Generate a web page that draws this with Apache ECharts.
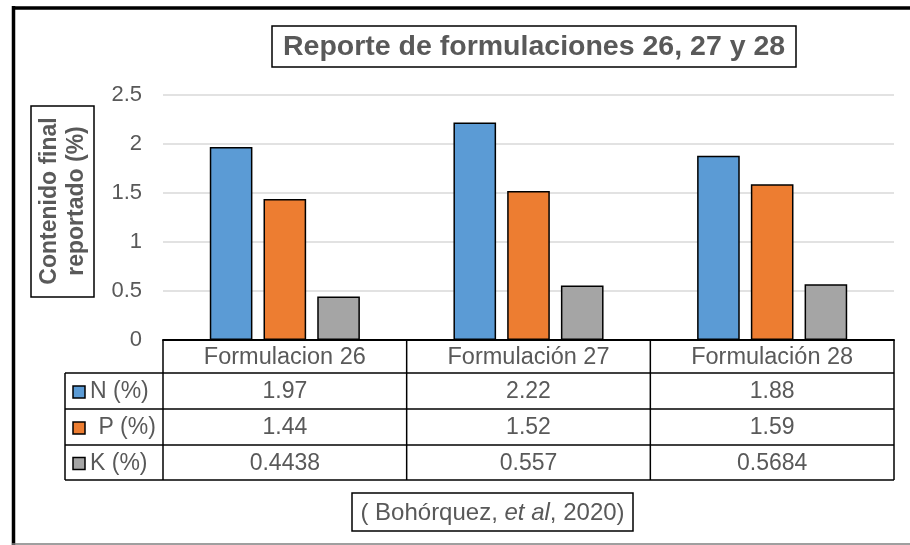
<!doctype html>
<html>
<head>
<meta charset="UTF-8">
<title>Reporte de formulaciones</title>
<script src="https://cdn.jsdelivr.net/npm/echarts@6/dist/echarts.min.js"></script>
<style>
  html, body { margin: 0; padding: 0; background: #fff; }
  #chart { width: 910px; height: 545px; }
</style>
</head>
<body>
<div id="chart"></div>
<script>
// datos
var categories = ['Formulacion 26', 'Formulación 27', 'Formulación 28'];
var seriesNames = ['N (%)', ' P (%)', 'K (%)'];
var nValues = [1.97, 2.22, 1.88];
var pValues = [1.44, 1.52, 1.59];
var kValues = [0.4438, 0.557, 0.5684];
var seriesColors = ['#5B9BD5', '#ED7D31', '#A5A5A5'];
var yMin = 0, yMax = 2.5, yStep = 0.5;

var FONT = '"Liberation Sans", Arial, sans-serif';
var TXT = '#595959';
var allValues = [nValues, pValues, kValues];

var chart = echarts.init(document.getElementById('chart'));

var series = allValues.map(function (vals, i) {
  return {
    name: seriesNames[i],
    type: 'bar',
    data: vals,
    barWidth: '17.5%',
    barGap: '26%',
    itemStyle: { color: seriesColors[i], borderColor: '#000', borderWidth: 1.5 },
    silent: true
  };
});

var option = {
  animation: false,
  backgroundColor: '#fff',
  title: {
    text: 'Reporte de formulaciones 26, 27 y 28',
    left: 272, top: 26,
    padding: [6, 11, 5, 11],
    borderColor: '#000', borderWidth: 1.5,
    textStyle: { fontFamily: FONT, fontSize: 28.5, fontWeight: 'bold', color: TXT, lineHeight: 30 }
  },
  grid: { left: 163, right: 16, top: 95, bottom: 205, containLabel: false },
  xAxis: {
    type: 'category',
    data: categories,
    axisLine: { lineStyle: { color: '#000', width: 2 } },
    axisTick: { show: false },
    axisLabel: { show: false }
  },
  yAxis: {
    type: 'value',
    min: yMin, max: yMax, interval: yStep,
    axisLine: { show: false },
    axisTick: { show: false },
    splitLine: { lineStyle: { color: '#D9D9D9', width: 1.5 } },
    axisLabel: { color: TXT, fontFamily: FONT, fontSize: 22, margin: 21 }
  },
  series: series
};
chart.setOption(option);

// tabla de datos dibujada desde los ejes
function drawTable() {
  var centers = categories.map(function (c, i) { return chart.convertToPixel({ xAxisIndex: 0 }, i); });
  var band = centers[1] - centers[0];
  var x0 = centers[0] - band / 2;
  var xEnd = centers[centers.length - 1] + band / 2;
  var yAxisBase = chart.convertToPixel({ yAxisIndex: 0 }, yMin);
  var rowsY = [yAxisBase, yAxisBase + 33, yAxisBase + 69, yAxisBase + 105, yAxisBase + 140];
  var legendLeft = 65;
  var els = [];
  var ls = { stroke: '#000', lineWidth: 1.5 };

  function line(x1, y1, x2, y2, st) {
    els.push({ type: 'line', shape: { x1: x1, y1: y1, x2: x2, y2: y2 }, style: st || ls, silent: true });
  }
  function text(x, y, t, size, align) {
    els.push({ type: 'text', silent: true,
      style: { text: t, x: x, y: y, fill: TXT, font: size + 'px ' + FONT, align: align || 'center', verticalAlign: 'middle' } });
  }

  // horizontales
  for (var r = 1; r < rowsY.length; r++) line(legendLeft, rowsY[r], xEnd, rowsY[r]);
  // verticales
  line(legendLeft, rowsY[1], legendLeft, rowsY[rowsY.length - 1]);
  for (var c = 0; c <= categories.length; c++) {
    var xx = x0 + c * band;
    line(xx, rowsY[0], xx, rowsY[rowsY.length - 1]);
  }
  // encabezados
  categories.forEach(function (cat, i) {
    text(centers[i], (rowsY[0] + rowsY[1]) / 2 + 1, cat, 23.5);
  });
  // filas
  allValues.forEach(function (vals, s) {
    var yc = (rowsY[s + 1] + rowsY[s + 2]) / 2 + 1;
    els.push({ type: 'rect', shape: { x: 73, y: yc - 6, width: 12, height: 12 },
      style: { fill: seriesColors[s], stroke: '#000', lineWidth: 1.5 }, silent: true });
    text(s === 1 ? 92 : 90, yc, seriesNames[s], 23, 'left');
    vals.forEach(function (v, i) { text(centers[i], yc, String(v), 23); });
  });

  // titulo del eje Y
  els.push({ type: 'rect', shape: { x: 31, y: 106, width: 63, height: 191 },
    style: { fill: 'none', stroke: '#000', lineWidth: 1.5 }, silent: true });
  els.push({ type: 'text', x: 63, y: 201, rotation: Math.PI / 2,
    style: { text: 'Contenido final\nreportado (%)', x: 0, y: 0, fill: TXT,
      font: 'bold 23px ' + FONT, lineHeight: 27, align: 'center', verticalAlign: 'middle' }, silent: true });

  // cita
  els.push({ type: 'rect', shape: { x: 352, y: 493, width: 281, height: 38 },
    style: { fill: 'none', stroke: '#000', lineWidth: 1.5 }, silent: true });
  els.push({ type: 'text', x: 492.5, y: 513,
    style: { text: '{n|( Bohórquez, }{i|et al}{n|, 2020)}', x: 0, y: 0, align: 'center', verticalAlign: 'middle',
      rich: {
        n: { fontFamily: FONT, fontSize: 24, fill: TXT, color: TXT },
        i: { fontFamily: FONT, fontSize: 24, fontStyle: 'italic', fill: TXT, color: TXT }
      } }, silent: true });

  // marco exterior
  line(12, 8, 910, 8, { stroke: '#000', lineWidth: 3.5 });
  line(13.5, 6, 13.5, 545, { stroke: '#000', lineWidth: 3.5 });
  line(12, 544, 910, 544, { stroke: '#7F7F7F', lineWidth: 1.5 });

  chart.setOption({ graphic: els });
}
drawTable();
</script>
</body>
</html>
